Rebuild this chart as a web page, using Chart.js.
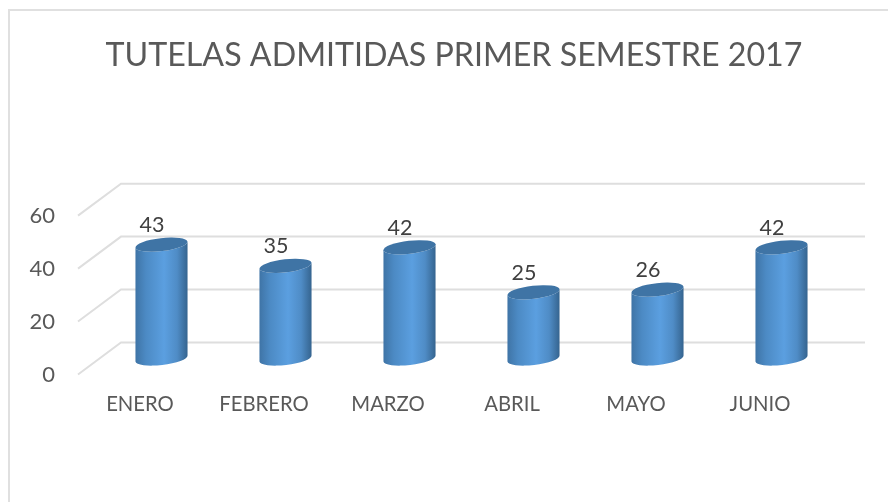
<!DOCTYPE html>
<html>
<head>
<meta charset="utf-8">
<script src="https://cdn.jsdelivr.net/npm/chart.js@4"></script>
<style>
  html, body { margin: 0; padding: 0; background: #fff; overflow: hidden; }
  #frame { position: absolute; left: 8px; top: 9px; width: 900px; height: 520px; border: 2px solid #e0e0e0; box-sizing: border-box; }
  #box { position: absolute; left: 0; top: 0; width: 888px; height: 502px; }
</style>
</head>
<body>
<div id="frame"></div>
<div id="box"><canvas id="chart"></canvas></div>
<script>
var months = ["ENERO", "FEBRERO", "MARZO", "ABRIL", "MAYO", "JUNIO"];
var tutelas = [43, 35, 42, 25, 26, 42];
var yTicks = [0, 20, 40, 60];

// profundidad del piso 3D
var depthX = 43;
var depthY = 32;

var fakeWalls = {
    id: 'fakeWalls',
    afterLayout(chart) {
        // el titulo va centrado sobre la pared del fondo, no sobre el area
        chart.titleBlock.left += 43;
        chart.titleBlock.right += 43;
    },
    beforeDatasetsDraw(chart) {
        var ctx = chart.ctx, y = chart.scales.y, area = chart.chartArea;
        ctx.save();
        ctx.strokeStyle = '#dedede';
        ctx.lineWidth = 2;
        yTicks.forEach(function (t) {
            var py = y.getPixelForValue(t);
            ctx.beginPath();
            ctx.moveTo(area.left, py);
            ctx.lineTo(area.left + depthX, py - depthY);
            ctx.lineTo(area.right + depthX, py - depthY);
            ctx.stroke();
        });
        ctx.restore();
    }
};

var cylinders = {
    id: 'cylinders',
    afterDatasetsDraw(chart) {
        var ctx = chart.ctx, meta = chart.getDatasetMeta(0);
        var tilt = -6.6 * Math.PI / 180;
        meta.data.forEach(function (bar, i) {
            var cx = bar.x + depthX / 2;
            var rx = bar.width / 2 / Math.cos(tilt);
            var ry = 6.5;
            var topY = bar.y - depthY / 2;
            var botY = bar.base - depthY / 2;
            var ox = bar.width / 2, oy = Math.tan(tilt) * bar.width / 2;

            var grad = ctx.createLinearGradient(cx - ox, 0, cx + ox, 0);
            grad.addColorStop(0, '#3f74a6');
            grad.addColorStop(0.2, '#4c8ac4');
            grad.addColorStop(0.55, '#5b9fe0');
            grad.addColorStop(0.8, '#4f8cc6');
            grad.addColorStop(1, '#35648f');

            ctx.save();
            ctx.beginPath();
            ctx.moveTo(cx - ox, topY - oy);
            ctx.lineTo(cx - ox, botY - oy);
            ctx.ellipse(cx, botY, rx, ry, tilt, Math.PI, 0, true);
            ctx.lineTo(cx + ox, topY + oy);
            ctx.ellipse(cx, topY, rx, ry, tilt, 0, Math.PI, false);
            ctx.closePath();
            ctx.fillStyle = grad;
            ctx.fill();

            ctx.beginPath();
            ctx.ellipse(cx, topY, rx, ry, tilt, 0, Math.PI * 2);
            ctx.fillStyle = '#3f74a5';
            ctx.fill();

            ctx.fillStyle = '#404040';
            ctx.font = '21.5px Lato';
            ctx.textAlign = 'center';
            ctx.textBaseline = 'middle';
            ctx.fillText(tutelas[i], bar.x + 12, bar.y - 35.5);
            ctx.restore();
        });
    }
};

new Chart(document.getElementById('chart'), {
    type: 'bar',
    data: {
        labels: months,
        datasets: [{
            data: tutelas,
            backgroundColor: 'rgba(0,0,0,0)',
            barPercentage: 0.42,
            categoryPercentage: 1
        }]
    },
    options: {
        responsive: true,
        maintainAspectRatio: false,
        animation: false,
        layout: { padding: { right: 66, top: 0, bottom: 0, left: 0 } },
        plugins: {
            legend: { display: false },
            tooltip: { enabled: false },
            title: {
                display: true,
                text: 'TUTELAS ADMITIDAS PRIMER SEMESTRE 2017',
                color: '#595959',
                font: { family: 'Lato', size: 32.2, weight: 'normal' },
                padding: { top: 36, bottom: 141 }
            }
        },
        scales: {
            x: {
                grid: { display: false },
                border: { display: false },
                ticks: { color: '#595959', font: { family: 'Lato', size: 20.3 }, padding: 10 },
                afterFit(s) { s.height = 502 - 374.5; }
            },
            y: {
                min: 0,
                max: 60,
                grid: { display: false },
                border: { display: false },
                ticks: { color: '#595959', font: { family: 'Lato', size: 22 }, stepSize: 20, padding: 15 },
                afterFit(s) { s.width = 78; }
            }
        }
    },
    plugins: [fakeWalls, cylinders]
});
</script>
</body>
</html>
